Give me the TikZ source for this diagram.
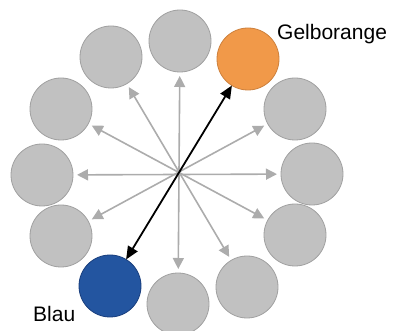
\documentclass[tikz,border=0pt]{standalone}
\usepackage{fontspec}
\setmainfont{Liberation Sans}
\usetikzlibrary{arrows.meta}

\definecolor{discgray}{RGB}{193,193,193}
\definecolor{discrim}{RGB}{160,160,160}
\definecolor{raygray}{RGB}{172,172,172}
\definecolor{gelborange}{RGB}{241,153,73}
\definecolor{gelbrim}{RGB}{205,128,60}
\definecolor{blau}{RGB}{35,85,160}
\definecolor{blaurim}{RGB}{25,62,125}

\begin{document}
\begin{tikzpicture}
	[x=1pt, y=-1pt,
	 disc/.style={circle, draw=discrim, fill=discgray, line width=0.8pt, minimum size=62pt, inner sep=0pt, outer sep=0pt},
	 ray/.style={color=raygray, line width=1.6pt, {Triangle[length=11pt,width=11pt]}-{Triangle[length=11pt,width=11pt]}, shorten <=4pt, shorten >=4pt},
	 pair/.style={color=black, line width=1.8pt, {Triangle[length=13pt,width=11pt]}-{Triangle[length=13pt,width=11pt]}},
	 label/.style={anchor=base west, inner sep=0pt, font=\fontsize{21pt}{25pt}\selectfont}]
   \useasboundingbox (0,0) rectangle (394,331);

   % colour circle, clockwise from the top
   \node[disc] (c_1)  at (180,41)  {};
   \node[disc, fill=gelborange, draw=gelbrim] (c_2) at (248,59) {};
   \node[disc] (c_3)  at (295,109) {};
   \node[disc] (c_4)  at (312,174) {};
   \node[disc] (c_5)  at (295,235) {};
   \node[disc] (c_6)  at (247,287) {};
   \node[disc] (c_7)  at (178,304) {};
   \node[disc, fill=blau, draw=blaurim] (c_8) at (110,286) {};
   \node[disc] (c_9)  at (61,236)  {};
   \node[disc] (c_10) at (42,175)  {};
   \node[disc] (c_11) at (61,109)  {};
   \node[disc] (c_12) at (111,57)  {};

   \node[label] (l_2) at (277,40)  {Gelborange};
   \node[label] (l_8) at (33,322)  {Blau};

    \path[ray]
    (c_1) edge (c_7)
    (c_3) edge (c_9)
    (c_4) edge (c_10)
    (c_5) edge (c_11)
    (c_6) edge (c_12);
    \draw[pair] (c_8) -- (c_2);
\end{tikzpicture}
\end{document}
